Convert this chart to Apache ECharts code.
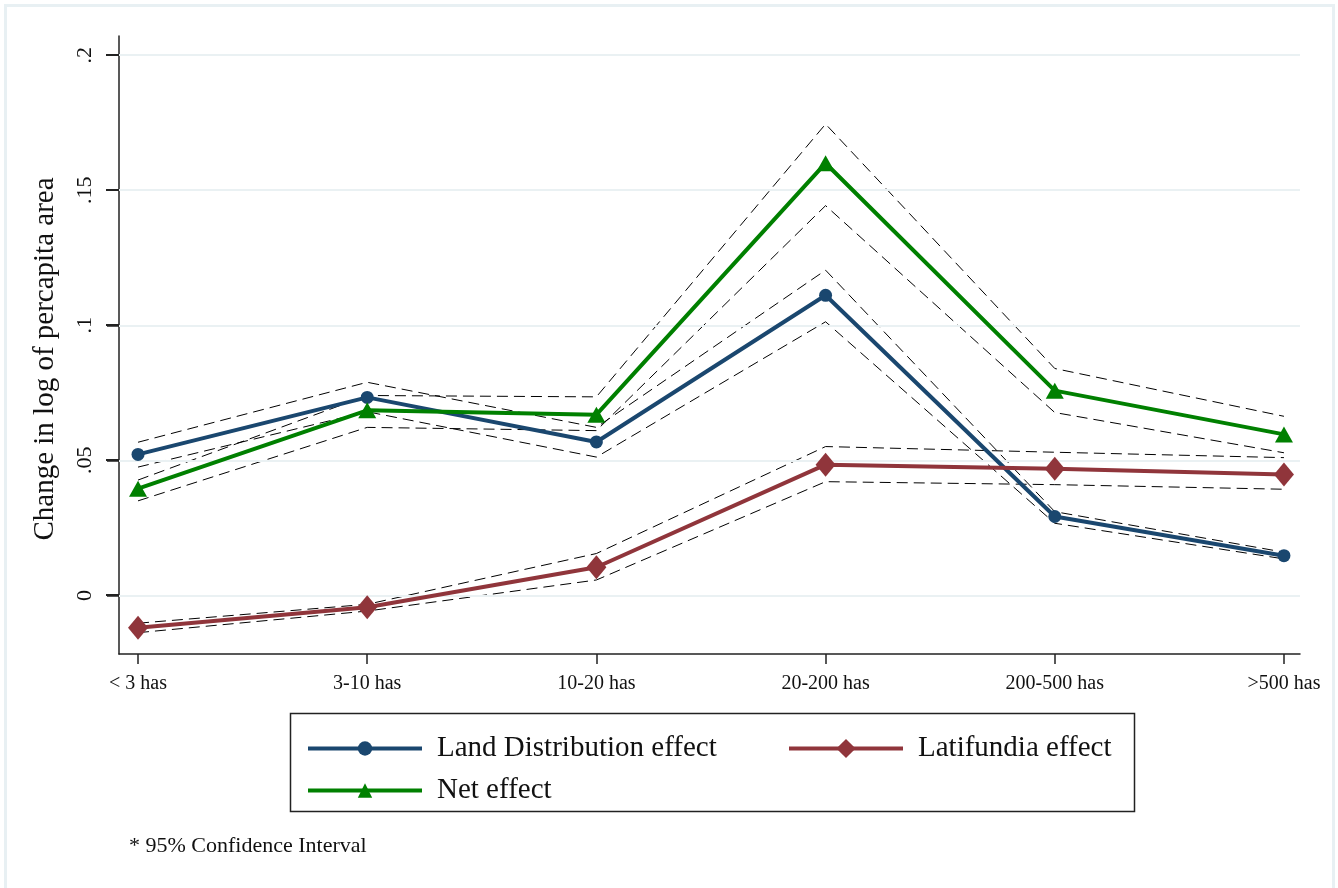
<!DOCTYPE html>
<html>
<head>
<meta charset="utf-8">
<script src="https://cdn.jsdelivr.net/npm/echarts@6/dist/echarts.min.js"></script>
<style>
  html, body { margin: 0; padding: 0; background: #fff; }
  #main { width: 1338px; height: 888px; }
</style>
</head>
<body>
<div id="main"></div>
<script>
// categories (farm size)
var categories = ['< 3 has', '3-10 has', '10-20 has', '20-200 has', '200-500 has', '>500 has'];

// point estimates
var landDist = [0.0522, 0.0733, 0.0568, 0.1111, 0.0292, 0.0147];
var latifundia = [-0.0120, -0.0044, 0.0104, 0.0484, 0.0469, 0.0448];
var netEffect = [0.0395, 0.0685, 0.0669, 0.1600, 0.0758, 0.0596];

// 95% confidence bounds
var landLo = [0.0475, 0.0680, 0.0512, 0.1013, 0.0267, 0.0135];
var landHi = [0.0567, 0.0789, 0.0622, 0.1204, 0.0310, 0.0160];
var latLo = [-0.0138, -0.0058, 0.0057, 0.0421, 0.0410, 0.0393];
var latHi = [-0.0103, -0.0033, 0.0155, 0.0551, 0.0530, 0.0510];
var netLo = [0.0350, 0.0622, 0.0610, 0.1443, 0.0677, 0.0528];
var netHi = [0.0427, 0.0740, 0.0735, 0.1745, 0.0840, 0.0663];

var yTicks = [0, 0.05, 0.1, 0.15, 0.2];
var yTickLabels = ['0', '.05', '.1', '.15', '.2'];

var xMin = -0.083, xMax = 5.07;
var serif = '"Liberation Serif", "DejaVu Serif", serif';

function pairs(arr) {
    return arr.map(function (v, i) { return [i, v]; });
}

function ciSeries(arr) {
    return {
        type: 'line',
        data: pairs(arr),
        symbol: 'none',
        silent: true,
        z: 3,
        lineStyle: { color: '#000', width: 1, type: [11, 6] }
    };
}

function legendBox(name, left, top, h) {
    return {
        data: [name], left: left, top: top,
        itemWidth: 114, itemHeight: h, itemGap: 0,
        lineStyle: { width: 4 },
        textStyle: { fontFamily: serif, fontSize: 29, color: '#111', padding: [0, 0, 0, 10] }
    };
}

// y-axis tick marks, drawn left of the axis line
function renderYTick(params, api) {
    var p = api.coord([api.value(0), api.value(1)]);
    var y = Math.round(p[1]);
    return {
        type: 'rect',
        shape: { x: p[0] - 13, y: y - 1, width: 13, height: 2 },
        style: { fill: '#222' }
    };
}

var myChart = echarts.init(document.getElementById('main'));

var option = {
    backgroundColor: '#fff',
    animation: false,
    grid: { left: 119, right: 38, top: 36, bottom: 234, containLabel: false },
    xAxis: {
        type: 'value',
        min: xMin,
        max: xMax,
        axisLine: { show: true, onZero: false, lineStyle: { color: '#222', width: 1.5 } },
        axisTick: { show: true, length: 10, customValues: [0, 1, 2, 3, 4, 5], lineStyle: { color: '#222', width: 1.5 } },
        axisLabel: {
            customValues: [0, 1, 2, 3, 4, 5],
            formatter: function (v) { return categories[Math.round(v)]; },
            fontFamily: serif, fontSize: 20, color: '#111', margin: 20
        },
        splitLine: { show: false }
    },
    yAxis: {
        type: 'value',
        min: -0.0217,
        max: 0.2071,
        axisLine: { show: true, onZero: false, lineStyle: { color: '#222', width: 1.5 } },
        axisTick: { show: true, inside: false, length: 12, customValues: yTicks, lineStyle: { color: '#222', width: 1.5 } },
        axisLabel: {
            customValues: yTicks,
            rotate: 90,
            formatter: function (v) {
                var i = yTicks.findIndex(function (t) { return Math.abs(t - v) < 1e-9; });
                return i >= 0 ? yTickLabels[i] : '';
            },
            fontFamily: serif, fontSize: 22, color: '#111', margin: 23
        },
        splitLine: { show: false }
    },
    legend: [
        legendBox('Land Distribution effect', 301, 729, 18),
        legendBox('Latifundia effect', 782, 729, 24),
        legendBox('Net effect', 301, 771, 18)
    ],
    title: {
        text: '* 95% Confidence Interval',
        left: 124, top: 830,
        textStyle: { fontFamily: serif, fontSize: 22, fontWeight: 'normal', color: '#111' }
    },
    graphic: [
        { type: 'rect', silent: true, shape: { x: 5.5, y: 5.5, width: 1328, height: 900 },
          style: { fill: 'none', stroke: '#e8f0f3', lineWidth: 3 } },
        { type: 'rect', silent: true, shape: { x: 290.5, y: 713.5, width: 844, height: 98 },
          style: { fill: 'none', stroke: '#222', lineWidth: 1.5 } },
        { type: 'text', silent: true, x: 45, y: 359, rotation: Math.PI / 2,
          style: { text: 'Change in log of percapita area', fontFamily: serif, fontSize: 29,
                   fill: '#111', textAlign: 'center', textVerticalAlign: 'middle' } }
    ],
    series: [
        {
            type: 'line', name: '_grid', data: [], silent: true,
            markLine: {
                silent: true, symbol: 'none', label: { show: false },
                lineStyle: { color: '#eaf1f3', width: 2, type: 'solid' },
                data: yTicks.map(function (t) { return { yAxis: t }; })
            },
            z: 1
        },
        {
            type: 'custom', name: '_yticks', silent: true, clip: false, z: 10,
            renderItem: renderYTick,
            data: yTicks.map(function (t) { return [xMin, t]; })
        },
        ciSeries(landLo), ciSeries(landHi),
        ciSeries(latLo), ciSeries(latHi),
        ciSeries(netLo), ciSeries(netHi),
        {
            type: 'line', name: 'Land Distribution effect', data: pairs(landDist),
            symbol: 'circle', symbolSize: 13, z: 5,
            lineStyle: { color: '#1a476f', width: 4 }, itemStyle: { color: '#1a476f' }
        },
        {
            type: 'line', name: 'Latifundia effect', data: pairs(latifundia),
            symbol: 'diamond', symbolSize: [20, 24], z: 5,
            lineStyle: { color: '#90353b', width: 4 }, itemStyle: { color: '#90353b' }
        },
        {
            type: 'line', name: 'Net effect', data: pairs(netEffect),
            symbol: 'triangle', symbolSize: [18, 16], z: 5,
            lineStyle: { color: '#008000', width: 4 }, itemStyle: { color: '#008000' }
        }
    ]
};

myChart.setOption(option);
</script>
</body>
</html>
